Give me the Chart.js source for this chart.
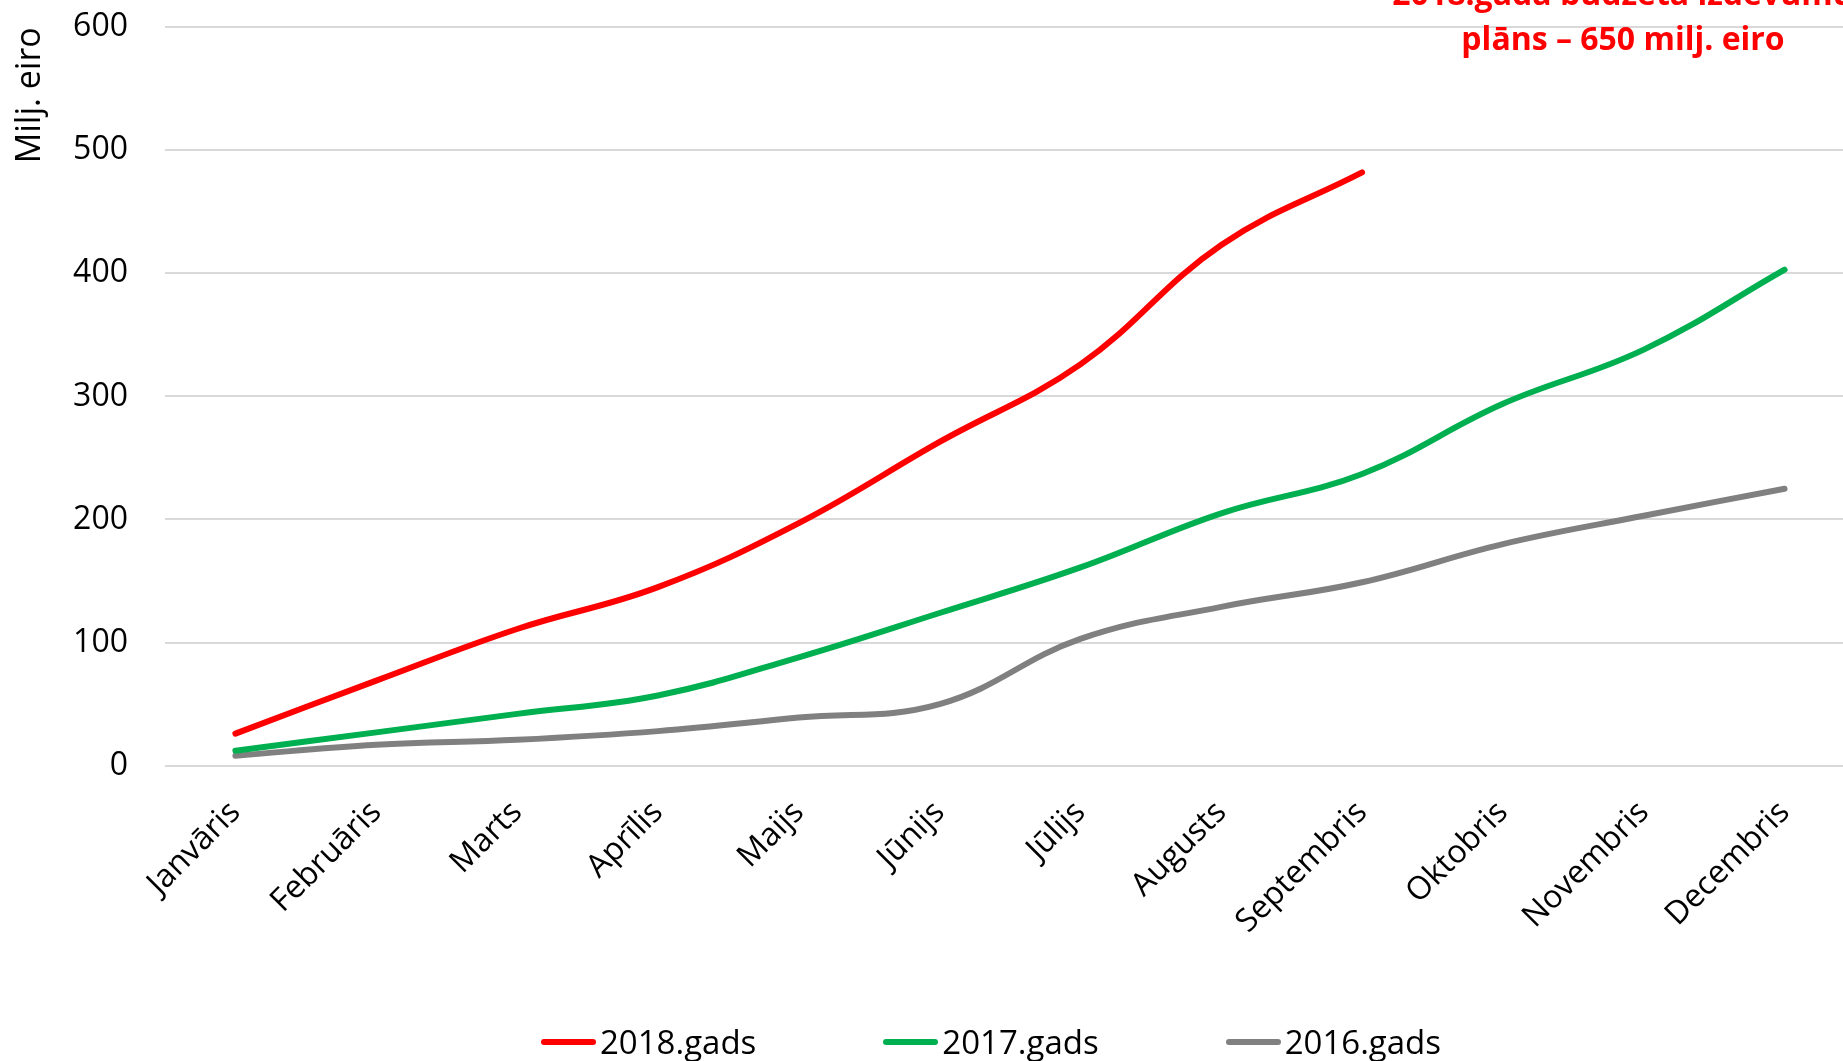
<!DOCTYPE html>
<html>
<head>
<meta charset="utf-8">
<script src="https://cdn.jsdelivr.net/npm/chart.js@4/dist/chart.umd.min.js"></script>
<style>
  html, body { margin: 0; padding: 0; background: #fff; }
  #wrap { position: relative; width: 1843px; height: 1061px; overflow: hidden; font-family: "Open Sans", sans-serif; }
  #box { position: absolute; left: 0; top: 0; width: 1855px; height: 1061px; }
  #note {
    position: absolute; left: 1623px; top: -30px; transform: translateX(-50%);
    color: #ff0000; font-weight: bold; font-size: 32px; line-height: 45px;
    text-align: center; white-space: nowrap;
  }
  #legend { position: absolute; left: 541px; top: 1021px; display: flex; gap: 127px; }
  .item { display: flex; align-items: center; font-size: 33px; color: #000; line-height: 42px; }
  .swatch { width: 55px; height: 6px; border-radius: 3px; margin-right: 4px; }
</style>
</head>
<body>
<div id="wrap">
  <div id="box"><canvas id="chart"></canvas></div>
  <div id="note">2018.gada budžeta izdevumu<br>plāns – 650 milj. eiro</div>
  <div id="legend"></div>
</div>
<script>
// months
const months = ['Janvāris', 'Februāris', 'Marts', 'Aprīlis', 'Maijs', 'Jūnijs',
    'Jūlijs', 'Augusts', 'Septembris', 'Oktobris', 'Novembris', 'Decembris'];

// cumulative spending, milj. eiro
const gads2018 = [26, 69, 111, 145, 197, 263, 326, 423, 482];
const gads2017 = [12, 27, 42, 57, 88, 124, 161, 205, 237, 294, 338, 403];
const gads2016 = [8, 17, 21, 28, 39, 50, 103, 129, 149, 180, 203, 225];

const yTicks = { min: 0, max: 600, step: 100 };

const font = { family: '"Open Sans", sans-serif', size: 32 };

const mkLine = (label, data, color) => ({
    label, data,
    borderColor: color,
    backgroundColor: color,
    borderWidth: 6,
    borderCapStyle: 'round',
    borderJoinStyle: 'round',
    pointRadius: 0,
    tension: 0.4,
    fill: false
});

const chart = new Chart(document.getElementById('chart'), {
    type: 'line',
    data: {
        labels: months,
        datasets: [
            mkLine('2018.gads', gads2018, '#ff0000'),
            mkLine('2017.gads', gads2017, '#00b050'),
            mkLine('2016.gads', gads2016, '#808080')
        ]
    },
    options: {
        responsive: true,
        maintainAspectRatio: false,
        animation: false,
        layout: { padding: { top: 0, right: 0, bottom: 100, left: 10 } },
        plugins: { legend: { display: false }, tooltip: { enabled: false } },
        scales: {
            x: {
                offset: true,
                grid: { display: false },
                border: { display: false },
                ticks: { font, color: '#000', minRotation: 45, maxRotation: 45, padding: 20 }
            },
            y: {
                min: yTicks.min,
                max: yTicks.max,
                grid: { color: '#d9d9d9', lineWidth: 2, drawTicks: true, tickLength: 29, tickColor: 'transparent' },
                border: { display: false },
                ticks: { font, color: '#000', stepSize: yTicks.step, padding: 8 },
                title: {
                    display: true, text: 'Milj. eiro', align: 'end', color: '#000',
                    font: { family: '"Open Sans", sans-serif', size: 34 },
                    padding: { top: 0, bottom: 10 }
                },
                afterFit: (scale) => { scale.width = 155; }
            }
        }
    }
});

// legend built from the datasets
const legend = document.getElementById('legend');
chart.data.datasets.forEach(ds => {
    const item = document.createElement('div');
    item.className = 'item';
    const sw = document.createElement('span');
    sw.className = 'swatch';
    sw.style.background = ds.borderColor;
    item.appendChild(sw);
    item.appendChild(document.createTextNode(ds.label));
    legend.appendChild(item);
});
</script>
</body>
</html>
